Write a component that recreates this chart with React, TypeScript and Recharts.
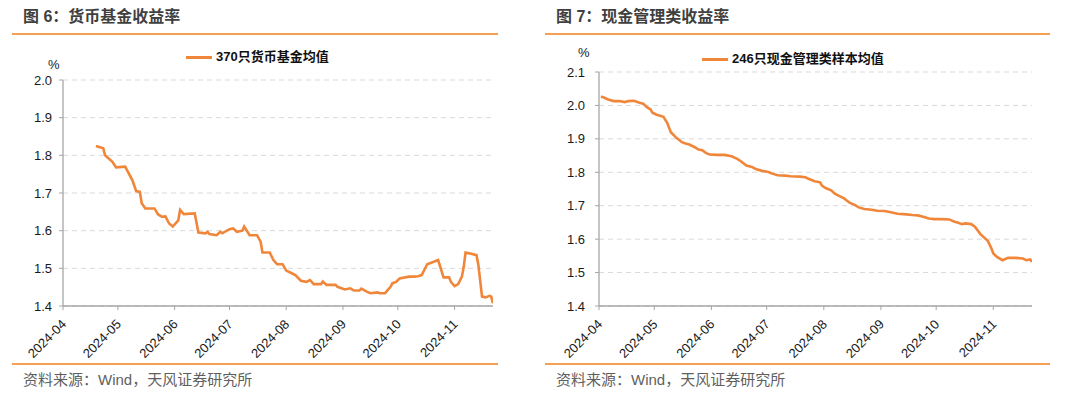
import React from 'react';
import { LineChart, Line, XAxis, YAxis, CartesianGrid } from 'recharts';

// 货币基金 370只均值 (%)
const MMF_DATES = [
  '2024-04-19', '2024-04-23', '2024-04-24', '2024-04-28', '2024-04-30', '2024-05-05', '2024-05-09', '2024-05-11',
  '2024-05-13', '2024-05-14', '2024-05-16', '2024-05-21', '2024-05-23', '2024-05-25', '2024-05-27', '2024-05-29',
  '2024-05-31', '2024-06-03', '2024-06-04', '2024-06-06', '2024-06-12', '2024-06-14', '2024-06-18', '2024-06-19',
  '2024-06-20', '2024-06-24', '2024-06-26', '2024-06-27', '2024-07-01', '2024-07-03', '2024-07-05', '2024-07-08',
  '2024-07-09', '2024-07-12', '2024-07-16', '2024-07-18', '2024-07-19', '2024-07-23', '2024-07-25', '2024-07-27',
  '2024-07-30', '2024-08-01', '2024-08-04', '2024-08-06', '2024-08-09', '2024-08-12', '2024-08-14', '2024-08-16',
  '2024-08-20', '2024-08-21', '2024-08-23', '2024-08-28', '2024-08-29', '2024-09-02', '2024-09-05', '2024-09-07',
  '2024-09-10', '2024-09-11', '2024-09-14', '2024-09-16', '2024-09-20', '2024-09-21', '2024-09-24', '2024-09-27',
  '2024-09-28', '2024-09-30', '2024-10-02', '2024-10-07', '2024-10-10', '2024-10-12', '2024-10-14', '2024-10-15',
  '2024-10-17', '2024-10-21', '2024-10-23', '2024-10-26', '2024-10-29', '2024-10-30', '2024-11-01', '2024-11-03',
  '2024-11-05', '2024-11-06', '2024-11-07', '2024-11-09', '2024-11-13', '2024-11-14', '2024-11-16', '2024-11-18',
  '2024-11-20', '2024-11-21', '2024-11-22',
];
const MMF_VALUES = [
  1.825, 1.819, 1.8, 1.783, 1.768, 1.77, 1.733, 1.705,
  1.703, 1.673, 1.659, 1.659, 1.643, 1.637, 1.638, 1.619,
  1.611, 1.627, 1.655, 1.644, 1.646, 1.595, 1.593, 1.597,
  1.591, 1.588, 1.597, 1.593, 1.604, 1.606, 1.597, 1.6,
  1.611, 1.588, 1.588, 1.571, 1.542, 1.542, 1.522, 1.511,
  1.511, 1.494, 1.487, 1.482, 1.467, 1.464, 1.469, 1.458,
  1.458, 1.465, 1.456, 1.456, 1.451, 1.444, 1.447, 1.441,
  1.441, 1.446, 1.438, 1.434, 1.436, 1.434, 1.434, 1.451,
  1.46, 1.464, 1.473, 1.478, 1.478, 1.479, 1.482, 1.491,
  1.511, 1.518, 1.522, 1.476, 1.476, 1.464, 1.453, 1.458,
  1.478, 1.504, 1.542, 1.54, 1.535, 1.509, 1.425, 1.423,
  1.427, 1.425, 1.407,
];

// 现金管理类 246只样本均值 (%)
const CASH_DATES = [
  '2024-04-02', '2024-04-03', '2024-04-06', '2024-04-09', '2024-04-12', '2024-04-15', '2024-04-17', '2024-04-20',
  '2024-04-23', '2024-04-25', '2024-04-27', '2024-04-29', '2024-04-30', '2024-05-02', '2024-05-06', '2024-05-08',
  '2024-05-10', '2024-05-13', '2024-05-16', '2024-05-18', '2024-05-20', '2024-05-23', '2024-05-25', '2024-05-27',
  '2024-05-29', '2024-05-31', '2024-06-04', '2024-06-08', '2024-06-12', '2024-06-15', '2024-06-17', '2024-06-20',
  '2024-06-23', '2024-06-25', '2024-06-28', '2024-07-02', '2024-07-04', '2024-07-07', '2024-07-11', '2024-07-14',
  '2024-07-19', '2024-07-22', '2024-07-24', '2024-07-27', '2024-07-30', '2024-07-31', '2024-08-02', '2024-08-05',
  '2024-08-07', '2024-08-09', '2024-08-12', '2024-08-15', '2024-08-18', '2024-08-20', '2024-08-23', '2024-08-27',
  '2024-08-30', '2024-09-03', '2024-09-05', '2024-09-07', '2024-09-10', '2024-09-15', '2024-09-18', '2024-09-21',
  '2024-09-24', '2024-09-27', '2024-09-30', '2024-10-04', '2024-10-08', '2024-10-11', '2024-10-13', '2024-10-15',
  '2024-10-17', '2024-10-20', '2024-10-22', '2024-10-25', '2024-10-29', '2024-10-31', '2024-11-01', '2024-11-03',
  '2024-11-06', '2024-11-09', '2024-11-13', '2024-11-17', '2024-11-19', '2024-11-21', '2024-11-22',
];
const CASH_VALUES = [
  2.026, 2.025, 2.018, 2.013, 2.013, 2.01, 2.013, 2.014,
  2.008, 2.005, 1.995, 1.988, 1.978, 1.973, 1.966, 1.948,
  1.92, 1.903, 1.89, 1.886, 1.883, 1.875, 1.868, 1.866,
  1.858, 1.853, 1.852, 1.852, 1.848, 1.84, 1.833, 1.82,
  1.816, 1.81, 1.805, 1.801, 1.796, 1.791, 1.79, 1.788,
  1.787, 1.785, 1.78, 1.773, 1.77, 1.76, 1.753, 1.746,
  1.736, 1.73, 1.722, 1.709, 1.702, 1.695, 1.69, 1.688,
  1.685, 1.684, 1.682, 1.68, 1.676, 1.674, 1.672, 1.671,
  1.667, 1.662, 1.66, 1.66, 1.659, 1.652, 1.649, 1.645,
  1.647, 1.645, 1.637, 1.615, 1.595, 1.572, 1.557, 1.547,
  1.537, 1.544, 1.544, 1.542, 1.537, 1.539, 1.532,
];

const MONTH_TICKS = ['2024-04-01', '2024-05-01', '2024-06-01', '2024-07-01', '2024-08-01', '2024-09-01', '2024-10-01', '2024-11-01'];
const MONTH_LABELS = ['2024-04', '2024-05', '2024-06', '2024-07', '2024-08', '2024-09', '2024-10', '2024-11'];
const X_END = '2024-11-22';

const MMF_Y_TICKS = [1.4, 1.5, 1.6, 1.7, 1.8, 1.9, 2.0];
const CASH_Y_TICKS = [1.4, 1.5, 1.6, 1.7, 1.8, 1.9, 2.0, 2.1];

const DAY = 86400000;
const START = Date.UTC(2024, 3, 1);
const toDay = (s: string) => {
  const [y, m, d] = s.split('-').map(Number);
  return Math.round((Date.UTC(y, m - 1, d) - START) / DAY);
};

const buildRows = (dates: string[], values: number[]) =>
  dates.map((d, i) => ({ day: toDay(d), value: values[i] }));

const mmfData = buildRows(MMF_DATES, MMF_VALUES);
const cashData = buildRows(CASH_DATES, CASH_VALUES);
const xTicks = MONTH_TICKS.map(toDay);
const xEnd = toDay(X_END);

const FONT = '"Liberation Sans", Arial, "Noto Sans CJK SC", sans-serif';
const ORANGE = '#F0863A';
const RULE = '#F5A055';
const AXIS = '#A6A6A6';

const MonthTick = (props: any) => {
  const { x, y, payload } = props;
  const idx = xTicks.indexOf(payload.value);
  const ax = x + 4;
  const ay = y + 13;
  return (
    <text
      x={ax}
      y={ay}
      transform={`rotate(-45 ${ax} ${ay})`}
      textAnchor="end"
      fontSize={13}
      fontFamily={FONT}
      fill="#1a1a1a"
    >
      {idx >= 0 ? MONTH_LABELS[idx] : ''}
    </text>
  );
};

interface PanelProps {
  left: number;
  title: string;
  legend: string;
  legendX: number;
  legendY: number;
  pctX: number;
  pctY: number;
  data: { day: number; value: number }[];
  yTicks: number[];
  margin: { top: number; right: number; bottom: number; left: number };
  tickMargin: number;
  ruleStart: number;
  ruleEnd: number;
}

const Panel: React.FC<PanelProps> = (p) => {
  const yMin = p.yTicks[0];
  const yMax = p.yTicks[p.yTicks.length - 1];
  return (
    <div style={{ position: 'absolute', left: p.left, top: 0, width: 540, height: 398 }}>
      <div
        style={{
          position: 'absolute', left: p.ruleStart + 11, top: 7, fontSize: 16, fontWeight: 'bold',
          color: '#3f3f3f', fontFamily: FONT, whiteSpace: 'nowrap', lineHeight: '20px',
        }}
      >
        {p.title}
      </div>
      <div style={{ position: 'absolute', left: p.ruleStart, top: 33, width: p.ruleEnd - p.ruleStart, height: 2, background: RULE }} />
      <div
        style={{
          position: 'absolute', left: p.legendX, top: p.legendY - 9, display: 'flex', alignItems: 'center',
          fontSize: 13, fontWeight: 'bold', color: '#111', fontFamily: FONT, whiteSpace: 'nowrap', lineHeight: '18px',
        }}
      >
        <span style={{ display: 'inline-block', width: 26, height: 3, background: ORANGE, marginRight: 4 }} />
        {p.legend}
      </div>
      <div
        style={{
          position: 'absolute', left: p.pctX, top: p.pctY - 8, fontSize: 13, color: '#1a1a1a',
          fontFamily: FONT, lineHeight: '16px',
        }}
      >
        %
      </div>
      <div style={{ position: 'absolute', left: 0, top: 0 }}>
        <LineChart width={540} height={398} data={p.data} margin={p.margin}>
          <CartesianGrid horizontal vertical={false} stroke="#D9D9D9" strokeDasharray="5 4" />
          <XAxis
            dataKey="day"
            type="number"
            domain={[0, xEnd]}
            ticks={xTicks}
            height={60}
            interval={0}
            tick={<MonthTick />}
            tickSize={4}
            axisLine={{ stroke: AXIS, strokeWidth: 1.3 }}
            tickLine={{ stroke: AXIS }}
            allowDataOverflow
          />
          <YAxis
            type="number"
            domain={[yMin, yMax]}
            ticks={p.yTicks}
            width={40}
            interval={0}
            tickSize={4}
            tickMargin={p.tickMargin}
            tickFormatter={(v: number) => v.toFixed(1)}
            tick={{ fontSize: 13, fill: '#1a1a1a', fontFamily: FONT }}
            axisLine={{ stroke: AXIS, strokeWidth: 1.3 }}
            tickLine={{ stroke: AXIS }}
          />
          <Line
            type="linear"
            dataKey="value"
            stroke={ORANGE}
            strokeWidth={2.6}
            dot={false}
            isAnimationActive={false}
          />
        </LineChart>
      </div>
      <div style={{ position: 'absolute', left: p.ruleStart, top: 363, width: p.ruleEnd - p.ruleStart, height: 2, background: RULE }} />
      <div
        style={{
          position: 'absolute', left: p.ruleStart + 11, top: 370, fontSize: 15, color: '#5f5f5f',
          fontFamily: FONT, whiteSpace: 'nowrap', lineHeight: '20px',
        }}
      >
        资料来源：Wind，天风证券研究所
      </div>
    </div>
  );
};

export default function App() {
  return (
    <div style={{ position: 'absolute', left: 0, top: 0, width: 1080, height: 398, background: '#fff', overflow: 'hidden' }}>
      <Panel
        left={0}
        title="图 6：货币基金收益率"
        legend="370只货币基金均值"
        legendX={186}
        legendY={57}
        pctX={48}
        pctY={65}
        data={mmfData}
        yTicks={MMF_Y_TICKS}
        margin={{ top: 80, right: 47, bottom: 32, left: 23 }}
        tickMargin={7}
        ruleStart={12}
        ruleEnd={498}
      />
      <Panel
        left={540}
        title="图 7：现金管理类收益率"
        legend="246只现金管理类样本均值"
        legendX={162}
        legendY={59}
        pctX={38}
        pctY={53}
        data={cashData}
        yTicks={CASH_Y_TICKS}
        margin={{ top: 72, right: 48, bottom: 32, left: 19 }}
        tickMargin={10}
        ruleStart={5}
        ruleEnd={510}
      />
    </div>
  );
}
